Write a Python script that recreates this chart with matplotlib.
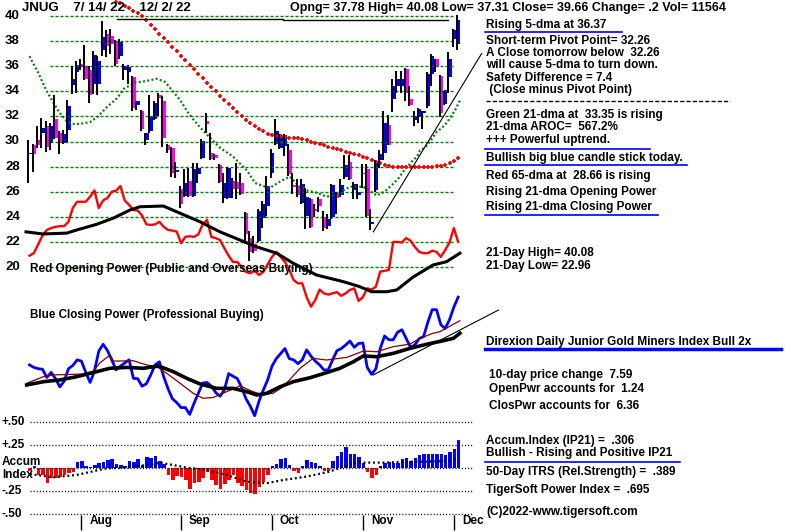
import matplotlib
matplotlib.use("Agg")
import matplotlib.pyplot as plt
from matplotlib.lines import Line2D
import numpy as np

plt.rcParams["font.family"] = ["Liberation Sans", "DejaVu Sans"]
plt.rcParams["lines.scale_dashes"] = False

# ---- price data (JNUG, 7/14/22 - 12/2/22) ----
opens = [29.0, 29.7, 30.1, 30.7, 31.2, 30.0, 31.8, 30.7, 29.9, 30.9,
         34.5, 35.5, 36.2, 36.0, 35.7, 34.6, 34.6, 37.3, 38.6, 38.4,
         38.0, 36.8, 35.7, 35.5, 35.1, 32.9, 32.4, 30.1, 30.8, 31.8,
         33.7, 33.2, 29.7, 29.5, 27.6, 26.2, 25.65, 26.85, 25.65, 27.4,
         28.7, 31.6, 29.1, 28.9, 28.1, 25.5, 25.5, 26.85, 26.8, 26.7,
         24.3, 22.3, 21.8, 22.05, 23.9, 24.85, 27.5, 29.8, 29.5, 29.65,
         29.35, 26.5, 26.45, 25.1, 24.05, 25.4, 24.6, 25.4, 23.95, 23.3,
         24.0, 25.9, 25.7, 27.2, 28.4, 26.1, 25.7, 27.5, 27.8, 23.4,
         26.1, 28.55, 29.05, 31.3, 33.35, 34.45, 34.45, 35.8, 33.35, 31.75,
         31.95, 32.3, 32.8, 35.35, 36.55, 35.25, 33.0, 35.1, 38.2, 37.78]
highs = [30.1, 29.8, 31.2, 31.9, 31.6, 31.5, 33.7, 30.8, 30.9, 33.3,
         36.0, 36.4, 36.6, 37.7, 36.0, 37.2, 36.8, 39.6, 38.9, 39.0,
         38.1, 38.2, 36.2, 36.1, 35.2, 33.2, 32.5, 30.7, 33.7, 33.2,
         33.9, 33.6, 29.8, 29.6, 28.4, 26.45, 27.8, 27.9, 28.3, 28.3,
         30.2, 32.3, 30.7, 29.0, 28.2, 27.5, 28.0, 27.1, 28.3, 27.5,
         24.4, 22.85, 22.45, 24.6, 25.25, 27.25, 29.4, 31.8, 30.6, 30.6,
         29.8, 27.5, 27.0, 27.0, 26.3, 25.5, 25.0, 25.6, 24.45, 24.2,
         26.65, 25.95, 27.0, 28.9, 28.9, 26.8, 26.65, 28.2, 28.2, 24.6,
         28.55, 29.3, 32.4, 32.15, 35.0, 35.6, 35.6, 35.85, 34.4, 32.4,
         32.65, 32.45, 35.5, 37.0, 36.6, 35.3, 34.0, 37.1, 39.0, 40.08]
lows = [26.7, 27.6, 29.5, 29.5, 29.2, 29.3, 30.2, 29.0, 29.8, 30.0,
        33.8, 33.9, 35.7, 34.9, 33.1, 33.8, 33.7, 36.8, 36.7, 37.0,
        36.0, 36.6, 34.9, 34.6, 32.4, 32.5, 30.85, 29.7, 30.7, 31.7,
        32.0, 29.6, 29.1, 27.2, 27.1, 24.7, 25.6, 25.6, 25.6, 26.7,
        28.6, 30.7, 28.5, 28.5, 26.7, 25.1, 25.4, 25.5, 25.4, 25.7,
        21.8, 20.5, 21.1, 22.0, 23.1, 24.05, 27.1, 29.7, 29.4, 28.85,
        27.25, 25.8, 25.6, 25.0, 23.0, 23.1, 24.0, 24.4, 22.85, 23.0,
        23.8, 24.2, 25.6, 27.0, 26.95, 25.4, 25.4, 26.3, 23.95, 22.96,
        26.0, 27.9, 28.55, 29.7, 32.35, 33.9, 33.9, 33.2, 32.85, 31.2,
        31.45, 31.0, 32.7, 34.45, 35.5, 31.95, 32.9, 33.9, 37.55, 37.31]
closes = [29.1, 29.0, 29.7, 31.1, 29.6, 31.2, 30.3, 29.9, 30.6, 32.8,
          35.0, 36.1, 35.9, 35.0, 33.7, 36.9, 36.4, 38.3, 37.6, 37.8,
          36.2, 37.9, 36.0, 35.9, 32.7, 33.2, 31.0, 30.7, 32.0, 33.1,
          33.5, 30.3, 29.3, 27.5, 27.7, 25.0, 26.7, 25.65, 27.8, 27.9,
          30.05, 31.4, 28.6, 28.7, 26.8, 26.7, 27.9, 26.2, 26.2, 25.8,
          22.6, 21.2, 21.3, 24.5, 25.0, 26.45, 29.1, 30.85, 30.45, 30.5,
          27.45, 26.35, 25.7, 26.6, 25.6, 23.2, 24.5, 24.9, 23.1, 23.8,
          26.55, 25.5, 26.55, 28.15, 27.0, 26.65, 25.95, 27.4, 24.05, 23.6,
          28.4, 29.0, 31.45, 29.75, 34.45, 34.95, 35.0, 33.9, 32.9, 32.07,
          32.6, 32.4, 35.4, 36.85, 35.9, 32.26, 34.1, 36.55, 38.9, 39.66]

# red 65-dma, days 20..99
ma65_first_day = 20
ma65 = [41.15, 41.0, 40.8, 40.6, 40.4, 40.2, 40.0, 39.65, 39.3, 38.95,
        38.6, 38.25, 37.9, 37.55, 37.2, 36.85, 36.5, 36.1, 35.75, 35.4,
        35.05, 34.7, 34.35, 34.0, 33.65, 33.3, 32.95, 32.65, 32.35, 32.05,
        31.75, 31.5, 31.25, 31.0, 30.8, 30.6, 30.5, 30.45, 30.4, 30.35,
        30.3, 30.3, 30.25, 30.2, 30.1, 30.0, 29.9, 29.8, 29.7, 29.6,
        29.5, 29.4, 29.3, 29.2, 29.1, 29.0, 28.9, 28.8, 28.7, 28.55,
        28.4, 28.25, 28.1, 28.05, 28.0, 27.95, 27.95, 27.95, 27.95, 27.95,
        27.95, 27.95, 28.0, 28.0, 28.05, 28.05, 28.15, 28.25, 28.45, 28.66]

# green 21-dma
ma21_days = [0, 0.8, 2, 2.9, 4, 5, 6.8, 8.4, 9.8, 11.7, 14, 15.8, 17.9, 20.2,
             21.8, 24.4, 26.7, 29.4, 31.3, 32.9, 34.8, 36.4, 38.2, 40, 44, 47,
             50.2, 52.1, 54.4, 55.5, 58.3, 60.2, 61.8, 64.1, 66.5, 68.6, 71, 74,
             77, 80.2, 82, 83.9, 85.3, 86.3, 88.3, 89.5, 90.2, 91.3, 92.5, 94.1,
             95.3, 96.4, 98.3, 99.5]
ma21_vals = [36.8, 36.25, 35.5, 34.8, 34.0, 33.4, 32.35, 31.7, 31.4, 31.4, 31.55,
             32.0, 32.75, 33.45, 34.2, 34.7, 34.8, 35.0, 34.75, 34.1, 33.3, 32.4,
             31.6, 30.9, 29.5, 28.8, 27.7, 26.7, 26.4, 26.3, 26.9, 27.2, 26.6,
             26.1, 25.9, 25.6, 25.8, 26.4, 26.4, 25.7, 26.0, 26.6, 27.1, 27.6,
             28.4, 28.8, 29.3, 29.5, 30.0, 30.8, 31.1, 31.5, 32.5, 33.35]

# red Opening Power (chart units)
op_power = [20.9, 21.1, 21.8, 22.5, 22.95, 23.1, 23.2, 23.25, 23.26, 23.6,
            24.7, 25.2, 25.2, 25.2, 25.6, 26.1, 24.7, 25.3, 25.5, 26.0,
            26.08, 26.45, 25.3, 24.95, 24.54, 24.5, 24.1, 23.4, 23.35, 23.4,
            23.6, 23.2, 22.95, 22.9, 22.82, 21.9, 22.4, 22.45, 22.4, 22.6,
            23.4, 23.75, 22.4, 22.3, 22.15, 21.5, 20.9, 20.4, 20.4, 20.0,
            19.6, 19.5, 19.7, 19.36, 19.6, 20.2, 20.8, 21.2, 20.8, 20.4,
            19.8, 18.96, 18.7, 18.7, 17.6, 16.84, 17.37, 18.2, 17.9, 17.8,
            17.9, 18.0, 17.7, 17.9, 18.17, 18.3, 17.3, 17.6, 18.3, 18.2,
            18.43, 19.63, 19.7, 19.76, 22.0, 22.0, 21.95, 22.3, 22.1, 21.6,
            21.2, 21.1, 21.1, 21.3, 21.2, 20.8, 21.35, 21.95, 23.1, 22.0]
op_ma_days = [-0.8, 3.1, 8.6, 10.9, 15.5, 19.4, 23.2, 25.5, 30.9, 34.8, 39.4, 44,
              48.6, 52.5, 57.1, 60.9, 66.3, 72.5, 76.3, 79, 82.5, 84.8, 88.6,
              93.2, 96.3, 99.4]
op_ma_vals = [22.8, 22.63, 22.7, 22.95, 23.4, 23.9, 24.54, 24.8, 24.86, 24.28,
              23.6, 22.8, 22.15, 21.6, 21.1, 20.3, 19.36, 18.83, 18.43, 18.03,
              18.03, 18.17, 19.2, 20.16, 20.42, 21.1]

# blue Closing Power (chart units)
cp_power = [12.2, 12.0, 11.9, 11.85, 11.2, 11.6, 11.1, 10.45, 10.9, 11.9,
            12.15, 12.6, 12.5, 11.6, 10.8, 11.7, 13.3, 13.84, 13.35, 12.6,
            11.8, 12.1, 12.35, 12.6, 11.13, 11.1, 10.5, 10.7, 11.4, 12.2,
            12.45, 11.26, 10.3, 9.5, 9.2, 8.8, 8.8, 8.25, 9.14, 9.94,
            10.75, 10.8, 10.5, 10.0, 9.7, 10.2, 11.5, 11.3, 11.1, 10.4,
            9.5, 8.9, 8.15, 9.3, 10.2, 11.0, 12.1, 12.7, 13.1, 13.5,
            12.7, 12.6, 12.3, 12.6, 13.4, 12.9, 12.5, 12.2, 11.8, 11.8,
            12.6, 13.33, 13.5, 13.78, 14.1, 13.6, 13.9, 13.95, 12.0, 11.45,
            11.9, 13.5, 14.5, 14.2, 14.2, 14.8, 15.0, 14.3, 13.6, 13.8,
            14.3, 14.45, 15.6, 16.6, 16.6, 15.4, 15.1, 15.8, 16.8, 17.6]
cp_ma_days = [-0.65, 3.2, 7, 10.9, 15.5, 18.6, 22.5, 26.3, 29.8, 33.2, 36.3, 39.4,
              43.2, 47, 50.2, 52.5, 54.8, 57.9, 60.9, 64.8, 68.6, 71.7, 74.8,
              77.1, 80.2, 84, 87.9, 91.7, 95.6, 97.9, 99.4]
cp_ma_vals = [10.6, 10.86, 11.0, 11.26, 11.66, 11.93, 12.0, 11.93, 12.11, 11.66,
              11.13, 10.68, 10.33, 10.33, 10.06, 9.8, 9.94, 10.46, 10.86, 11.18,
              11.58, 11.93, 12.45, 12.91, 12.85, 13.12, 13.52, 13.84, 14.13,
              14.32, 14.72]
cp_ma2_days = [-0.65, 3.2, 5.5, 12.4, 14.7, 16.3, 18.6, 19.4, 24, 27.1, 29.4, 31.7,
               34.8, 37.8, 40.1, 42.4, 45.5, 48.6, 51.7, 54, 56.3, 58.6, 62.5, 65.5,
               68.6, 73.3, 77.1, 80.2, 84, 87.9, 90.2, 93.2, 94.8, 99.4]
cp_ma2_vals = [10.73, 11.26, 11.4, 11.47, 11.7, 12.37, 12.99, 12.5, 12.53, 12.19,
               12.06, 11.53, 10.73, 9.94, 9.54, 9.6, 10.06, 10.52, 10.06, 9.8, 9.95,
               10.46, 11.93, 12.72, 12.59, 12.8, 13.3, 13.25, 13.65, 13.86, 14.32,
               14.72, 14.85, 15.72]

# Accumulation Index (IP21)
accum = [-0.03, 0.02, -0.07, -0.07, -0.155, -0.10, -0.11, -0.09, -0.07, -0.055,
         -0.035, 0.07, 0.08, 0.02, 0.01, 0.035, 0.06, 0.07, 0.09, 0.10,
         0.05, 0.035, 0.025, 0.08, 0.07, 0.10, 0.035, 0.12, 0.11, 0.13,
         0.08, 0.05, -0.07, -0.125, -0.085, -0.09, -0.125, -0.22, -0.155, -0.145,
         -0.10, -0.035, -0.125, -0.18, -0.23, -0.17, -0.125, -0.07, -0.16, -0.19,
         -0.235, -0.265, -0.28, -0.20, -0.145, -0.07, 0.025, 0.05, 0.10, 0.11,
         0.035, -0.025, -0.05, 0.025, 0.09, 0.07, 0.055, 0.025, -0.025, -0.025,
         0.08, 0.13, 0.18, 0.235, 0.155, 0.16, 0.12, 0.055, -0.035, -0.10,
         -0.07, 0.02, 0.06, 0.07, 0.06, 0.055, 0.10, 0.11, 0.08, 0.11,
         0.145, 0.155, 0.16, 0.16, 0.155, 0.16, 0.145, 0.18, 0.205, 0.306]
accum_ma_days = [0.1, 5.5, 10.9, 17.8, 22.4, 27, 30.1, 33.2, 36.3, 40.9, 45.5, 50.1,
                 54.7, 58.6, 64, 69.3, 72.4, 75.5, 77.8, 82.4, 87, 91.6, 96.3, 99]
accum_ma_vals = [-0.062, -0.098, -0.072, 0.0, 0.007, 0.036, 0.06, 0.036, 0.007,
                 -0.018, -0.072, -0.145, -0.163, -0.127, -0.09, -0.036, 0.018,
                 0.062, 0.062, 0.062, 0.072, 0.072, 0.08, 0.098]

price_ticks = [40, 38, 36, 34, 32, 30, 28, 26, 24, 22, 20]
accum_ticks = [0.5, 0.25, 0.0, -0.25, -0.5]
accum_labels = ["+.50", "+.25", "", "-.25", "-.50"]
months = ["Aug", "Sep", "Oct", "Nov", "Dec"]
month_days = [12, 35, 56, 77, 98]

# trend lines (day, value)
price_trend_days = [79.4, 104.4]
price_trend_vals = [22.8, 37.0]
cp_trend_days = [79.4, 108.3]
cp_trend_vals = [11.4, 16.57]
top_line_days = [20.2, 58.5, 58.5, 96.7]
top_line_vals = [39.74, 39.74, 39.66, 39.66]

BLUE = "#0000ff"
MAG = "#ff00ff"
RED = "#ff0000"
GREEN = "#008000"

W, H = 800, 532
fig = plt.figure(figsize=(8, 5.32), dpi=100)
fig.patch.set_facecolor("white")

ax = fig.add_axes([0, 0, 1, 1])
ax.set_xlim(-29.5 / 4.33, (W - 29.5) / 4.33)
ax.set_ylim(40 + 16 / 12.55 - H / 12.55, 40 + 16 / 12.55)
ax.axis("off")

ax2 = fig.add_axes([0, 0, 1, 1], facecolor="none")
ax2.set_xlim(ax.get_xlim())
ax2.set_ylim(-(H - 468.3) / 92, 468.3 / 92)
ax2.axis("off")

days = np.arange(len(closes))
o = np.array(opens); c = np.array(closes)
hi = np.array(highs); lo = np.array(lows)

# price grid
ax.hlines(price_ticks, 4.73, 97.8, colors=GREEN, lw=1, linestyles=[(0, (2.2, 1.4))])

# moving averages on price
ax.plot(ma21_days, ma21_vals, color=GREEN, lw=1.6, ls=(0, (1.4, 1.7)))
ax.plot(np.arange(ma65_first_day, ma65_first_day + len(ma65)), ma65, ls="none",
        marker="+", ms=3.2, mew=1.3, color=RED, clip_on=True)
ax.plot(top_line_days, top_line_vals, color="black", lw=1)

# candles
up = c >= o
ax.vlines(days - 0.3, lo, hi, colors="black", lw=1.4)
body = np.maximum(np.abs(c - o), 0.12)
ax.bar(days + 0.12, body, bottom=np.minimum(o, c), width=0.82,
       color=np.where(up, BLUE, MAG), lw=0)
ax.plot(price_trend_days, price_trend_vals, color="black", lw=0.8)

# opening / closing power
ax.plot(days, op_power, color=RED, lw=1.7)
ax.plot(op_ma_days, op_ma_vals, color="black", lw=2.2)
ax.plot(days, cp_power, color=BLUE, lw=2.0)
ax.plot(cp_ma2_days, cp_ma2_vals, color="#800000", lw=0.9)
ax.plot(cp_ma_days, cp_ma_vals, color="black", lw=2.6)
ax.plot(cp_trend_days, cp_trend_vals, color="black", lw=0.8)

# accumulation index
ax2.hlines(accum_ticks, 0.1, 102.2, colors="black", lw=1, linestyles=[(0, (0.75, 1.5))])
acc = np.array(accum)
ax2.bar(days + 0.1, acc, width=0.8, color=np.where(acc >= 0, BLUE, RED), lw=0)
ax2.plot(accum_ma_days, accum_ma_vals, color="black", lw=1.6, ls=(0, (1.4, 2.0)))
ax2.vlines(month_days, -0.671, -0.508, colors="black", lw=1)


def P(x, y):
    return x / W, 1 - y / H


bold = dict(fontweight="bold", color="black", va="center", ha="left")

# y labels
for t in price_ticks:
    ypx = 16 + (40 - t) * 12.55
    fig.text(*P(5, ypx), str(t), fontsize=9.5, **bold)
for t, lab in zip(accum_ticks, accum_labels):
    if lab:
        fig.text(*P(2, 468.3 - t * 92), lab, fontsize=8.5, **bold)
fig.text(*P(2, 462), "Accum", fontsize=8.5, **bold)
fig.text(*P(2, 475), "Index", fontsize=8.5, **bold)
for d, m in zip(month_days, months):
    xpx = 29.5 + 4.33 * d
    fig.text(*P(xpx + 8, 521), m, fontsize=8.5, **bold)

# header
fig.text(*P(22, 8), "JNUG    7/ 14/ 22    12/ 2/ 22", fontsize=9.5, **bold)
fig.text(*P(290, 8), "Opng= 37.78 High= 40.08 Low= 37.31 Close= 39.66 Change= .2 Vol= 11564",
         fontsize=9, **bold)

fig.text(*P(30, 269), "Red Opening Power (Public and Overseas Buying)", fontsize=8.5, **bold)
fig.text(*P(30, 315), "Blue Closing Power (Professional Buying)", fontsize=8.4, **bold)

panel = [
    ("Rising 5-dma at 36.37", 486, 24.7),
    ("Short-term Pivot Point= 32.26", 486, 41),
    ("A Close tomorrow below  32.26", 486, 53),
    ("will cause 5-dma to turn down.", 486, 65),
    ("Safety Difference = 7.4", 486, 78),
    (" (Close minus Pivot Point)", 486, 90),
    ("Green 21-dma at  33.35 is rising", 486, 115),
    ("21-dma AROC=  567.2%", 486, 127.5),
    ("+++ Powerful uptrend.", 486, 140),
    ("Bullish big blue candle stick today.", 486, 158),
    ("Red 65-dma at  28.66 is rising", 486, 176),
    ("Rising 21-dma Opening Power", 486, 192),
    ("Rising 21-dma Closing Power", 486, 207),
    ("21-Day High= 40.08", 486, 252.7),
    ("21-Day Low= 22.96", 486, 265.7),
    ("Direxion Daily Junior Gold Miners Index Bull 2x", 486, 341.7),
    ("10-day price change  7.59", 489, 375),
    ("OpenPwr accounts for  1.24", 489, 389),
    ("ClosPwr accounts for  6.36", 489, 405.7),
    ("Accum.Index (IP21) =  .306", 486, 440.7),
    ("Bullish - Rising and Positive IP21", 486, 452.7),
    ("50-Day ITRS (Rel.Strength) =  .389", 486, 471.7),
    ("TigerSoft Power Index =  .695", 486, 490),
    ("(C)2022-www.tigersoft.com", 486, 511.7),
]
for txt, x, y in panel:
    fig.text(*P(x, y), txt, fontsize=8.5, **bold)

underlines = [(485, 622, 32, 1.2), (485, 650, 149, 1.2), (485, 687, 165, 1.2),
              (485, 658, 215, 1.2), (485, 781, 349, 2.5), (485, 680, 462.3, 1.2)]
for x0, x1, y, lw in underlines:
    fig.add_artist(Line2D([x0 / W, x1 / W], [1 - y / H, 1 - y / H], color=BLUE, lw=lw,
                          transform=fig.transFigure))
fig.add_artist(Line2D([486 / W, 730 / W], [1 - 101 / H, 1 - 101 / H], color="black", lw=1,
                      ls=(0, (3, 1.5)), transform=fig.transFigure))

fig.savefig("out.png", dpi=100)
